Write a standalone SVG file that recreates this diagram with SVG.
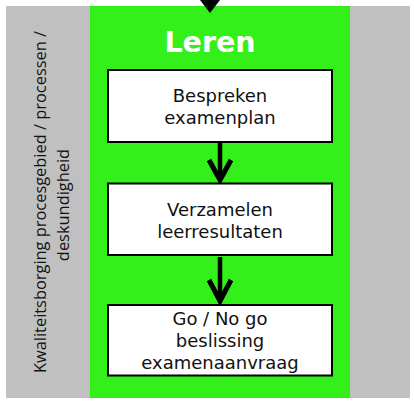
<svg xmlns="http://www.w3.org/2000/svg" width="414" height="404" viewBox="0 0 414 404">
<style>
.box{fill:#fff;stroke:#000;stroke-width:2}
.t{font-family:"DejaVu Sans",Verdana,sans-serif;font-size:18px;fill:#111;text-anchor:middle}
.side{font-family:"Open Sans","DejaVu Sans",sans-serif;font-size:16.4px;fill:#111;text-anchor:middle}
.title{font-family:"DejaVu Sans",Verdana,sans-serif;font-weight:bold;font-size:28.5px;fill:#fff;text-anchor:middle}
.conn{stroke:#000;stroke-width:4.5;fill:none}
.head{stroke:#000;stroke-width:5;fill:none;stroke-linejoin:miter}
</style>
<rect width="414" height="404" fill="#fff"/>
<g id="background">
<rect x="6" y="6" width="404" height="392" fill="#C0C0C0"/>
<rect x="90" y="6" width="260" height="392" fill="#33F01A"/>
<text class="title" x="210" y="52">Leren</text>
<text class="side" transform="translate(46,202) rotate(-90)" x="0" y="0">Kwaliteitsborging procesgebied / processen /</text>
<text class="side" transform="translate(69,205) rotate(-90)" x="0" y="0">deskundigheid</text>
</g>
<g id="connectors">
<polygon points="200,0 220,0 210,13" fill="#000"/>
<line class="conn" x1="220" y1="143" x2="220" y2="178"/>
<polyline class="head" points="209,160 220,180 231,160"/>
<line class="conn" x1="220" y1="257" x2="220" y2="299"/>
<polyline class="head" points="209,280 220,301 231,280"/>
</g>
<g id="node1">
<rect class="box" x="108" y="70" width="224" height="72"/>
<text class="t" x="220" y="102">Bespreken</text>
<text class="t" x="220" y="124">examenplan</text>
</g>
<g id="node2">
<rect class="box" x="108" y="183.5" width="224" height="71.5"/>
<text class="t" x="220" y="216">Verzamelen</text>
<text class="t" x="220" y="238">leerresultaten</text>
</g>
<g id="node3">
<rect class="box" x="108" y="305" width="224" height="70.5"/>
<text class="t" x="220" y="325">Go / No go</text>
<text class="t" x="220" y="347">beslissing</text>
<text class="t" x="220" y="369">examenaanvraag</text>
</g>
</svg>
